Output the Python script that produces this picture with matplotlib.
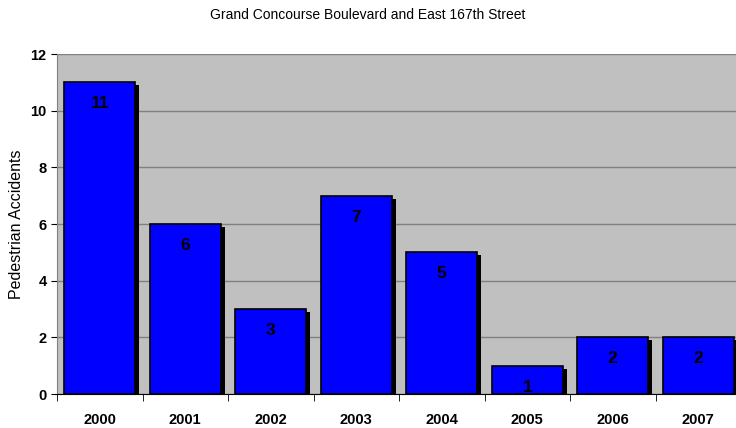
import numpy as np
import matplotlib
matplotlib.use("Agg")
import matplotlib.pyplot as plt
import matplotlib.transforms as mtransforms

years = ["2000", "2001", "2002", "2003", "2004", "2005", "2006", "2007"]
accidents = [11, 6, 3, 7, 5, 1, 2, 2]

plt.rcParams['font.family'] = ['Liberation Sans', 'DejaVu Sans']

fig = plt.figure(figsize=(7.36, 4.28), dpi=100)
ax = fig.add_axes([57/736, 34/428, 684/736, 340/428])
ax.set_facecolor("#C0C0C0")

x = np.arange(len(years))
w = 0.83

# shadow bars, shifted a few pixels right and down
shift = mtransforms.ScaledTranslation(4/100, -3/100, fig.dpi_scale_trans)
ax.bar(x, accidents, width=w, color="black", edgecolor="black", linewidth=0,
       transform=ax.transData + shift, zorder=2)
ax.bar(x, accidents, width=w, color="#0000FF", edgecolor="black", linewidth=1.2, zorder=3)

for xi, v in zip(x, accidents):
    ax.annotate(str(v), (xi, v), xytext=(0, -15.5), textcoords="offset points",
                ha="center", va="center", fontsize=12.5, fontweight="bold", zorder=4)

ax.set_xlim(-0.5, len(years) - 0.5)
ax.set_ylim(0, 12)
ax.set_yticks(np.arange(0, 13, 2))
ax.yaxis.grid(True, color="#808080", linewidth=1)
ax.set_axisbelow(True)

ax.set_xticks(x)
ax.set_xticklabels(years, fontsize=10.5, fontweight="bold")
ax.set_xticks(np.arange(-0.5, len(years), 1), minor=True)
ax.tick_params(axis="x", which="major", length=0, pad=14)
ax.tick_params(axis="x", which="minor", length=5, direction="out", color="black")
ax.tick_params(axis="y", labelsize=10.5, length=4, direction="out")
for lab in ax.get_yticklabels():
    lab.set_fontweight("bold")

for s in ["top", "right"]:
    ax.spines[s].set_visible(False)
ax.spines["left"].set_color("#808080")
ax.spines["bottom"].set_color("black")

fig.text(17/736, 1 - 224/428, "Pedestrian Accidents", rotation=90,
         ha="center", va="center", fontsize=11.5)
fig.text(0.5, 1 - 15/428, "Grand Concourse Boulevard and East 167th Street",
         ha="center", va="center", fontsize=10)

fig.savefig("out.png", dpi=100)
